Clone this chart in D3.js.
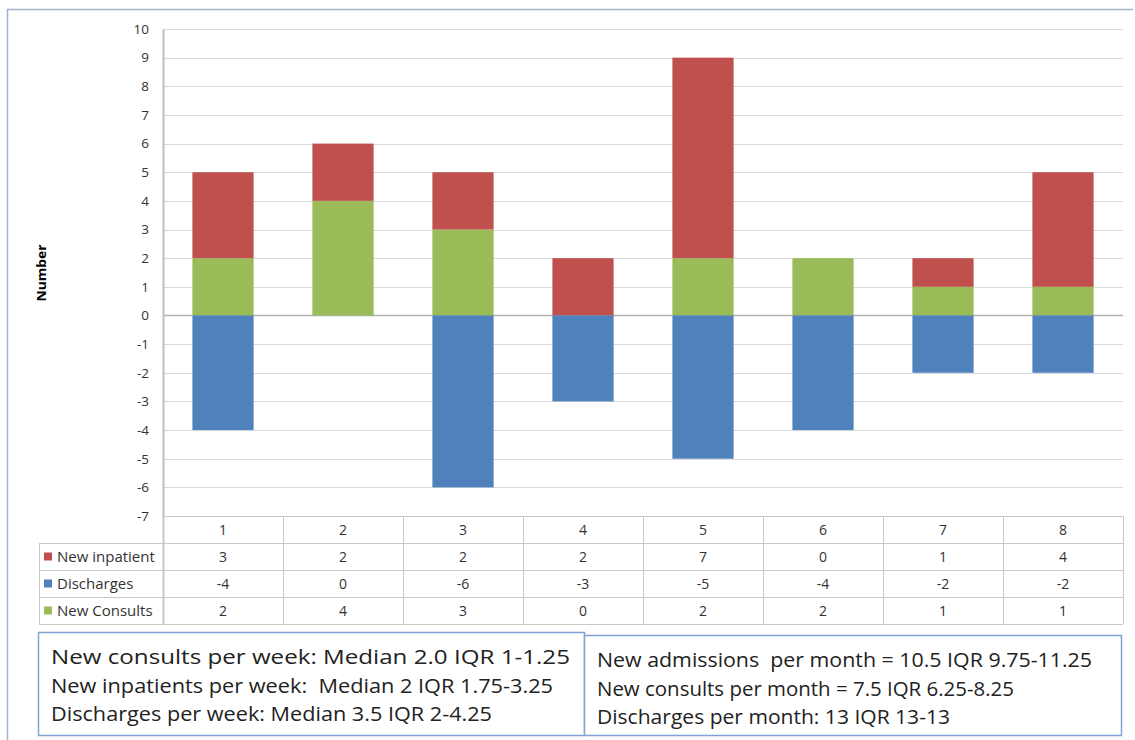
<!DOCTYPE html>
<html><head><meta charset="utf-8">
<script src="https://cdn.jsdelivr.net/npm/d3@7"></script>
<style>body{margin:0;background:#fff}svg{display:block}text{white-space:pre}</style>
</head><body>
<script>
const weeks = ["1","2","3","4","5","6","7","8"];
const newInpatient = [3,2,2,2,7,0,1,4];
const discharges = [-4,0,-6,-3,-5,-4,-2,-2];
const newConsults = [2,4,3,0,2,2,1,1];
const yTicks = [10,9,8,7,6,5,4,3,2,1,0,-1,-2,-3,-4,-5,-6,-7];
const seriesNames = ["New inpatient","Discharges","New Consults"];
const seriesColors = ["#C0504D","#4F81BD","#9BBB59"];
const boxLeft = ["New consults per week: Median 2.0 IQR 1-1.25","New inpatients per week:  Median 2 IQR 1.75-3.25","Discharges per week: Median 3.5 IQR 2-4.25"];
const boxRight = ["New admissions  per month = 10.5 IQR 9.75-11.25","New consults per month = 7.5 IQR 6.25-8.25","Discharges per month: 13 IQR 13-13"];
const boxLeftWidths = [519,502,441];
const boxRightWidths = [495,417,353];

const W=1135,H=740;
const svg=d3.select("body").append("svg").attr("width",W).attr("height",H);
const font="'Open Sans', 'Liberation Sans', Arial, sans-serif";
const L=163,R=1123,T=29,B=516;
svg.append("path").attr("d",`M7.5,${H} V9.5 H1133`).attr("fill","none").attr("stroke","#9fb3cc").attr("stroke-width",1.5);

const x=d3.scaleBand().domain(weeks).range([L,R]).paddingInner(0).paddingOuter(0);
const y=d3.scaleLinear().domain([-7,10]).range([B,T]);

svg.append("g").selectAll("line").data(yTicks).join("line")
 .attr("x1",L).attr("x2",R).attr("y1",d=>Math.round(y(d))+0.5).attr("y2",d=>Math.round(y(d))+0.5)
 .attr("stroke",d=>d===0?"#b0b0b0":"#d9d9d9").attr("stroke-width",d=>d===0?1.5:1.2);
const ya=svg.append("g").attr("transform",`translate(${L},0)`)
 .call(d3.axisLeft(y).tickValues(yTicks).tickSize(0).tickPadding(14).tickFormat(d=>String(d)));
ya.select(".domain").attr("stroke","#bfbfbf").attr("stroke-width",2);
ya.selectAll("text").attr("font-family",font).attr("font-size",13.5).attr("fill","#333");

svg.append("text").attr("transform","translate(46,273) rotate(-90)").attr("text-anchor","middle")
 .attr("font-family",font).attr("font-size",12).attr("font-weight","bold").attr("fill","#000")
 .attr("textLength",57).attr("lengthAdjust","spacingAndGlyphs").text("Number");

const rows=weeks.map((w,i)=>({week:w,consults:newConsults[i],inpatient:newInpatient[i],discharges:discharges[i]}));
const keys=["consults","inpatient","discharges"];
const colorOf={consults:seriesColors[2],inpatient:seriesColors[0],discharges:seriesColors[1]};
const stack=d3.stack().keys(keys).offset(d3.stackOffsetDiverging)(rows);
const bw=x.bandwidth()*0.51;
svg.append("g").selectAll("g").data(stack).join("g").attr("fill",d=>colorOf[d.key])
 .selectAll("rect").data(d=>d).join("rect")
 .attr("x",d=>x(d.data.week)+(x.bandwidth()-bw)/2).attr("width",bw)
 .attr("y",d=>y(Math.max(d[0],d[1]))).attr("height",d=>Math.abs(y(d[0])-y(d[1])));

const rowH=27, tL=39;
const tg=svg.append("g");
const lc="#c8c8c8";
[B,B+rowH,B+2*rowH,B+3*rowH,B+4*rowH].forEach((yy,i)=>{
  tg.append("line").attr("x1",i===0?L:tL).attr("x2",R).attr("y1",yy+0.5).attr("y2",yy+0.5).attr("stroke",lc);
});
tg.append("line").attr("x1",tL+0.5).attr("x2",tL+0.5).attr("y1",B+rowH).attr("y2",B+4*rowH).attr("stroke",lc);
weeks.forEach(w=>{tg.append("line").attr("x1",x(w)+0.5).attr("x2",x(w)+0.5).attr("y1",B).attr("y2",B+4*rowH).attr("stroke",lc).attr("stroke-width",x(w)===L?2:1);});
tg.append("line").attr("x1",R+0.5).attr("x2",R+0.5).attr("y1",B).attr("y2",B+4*rowH).attr("stroke",lc);
tg.selectAll(".hdr").data(weeks).join("text").attr("x",d=>x(d)+x.bandwidth()/2).attr("y",B+rowH/2+5)
 .attr("text-anchor","middle").attr("font-family",font).attr("font-size",14).attr("fill","#333").text(d=>d);
const tableSeries=[newInpatient,discharges,newConsults];
tableSeries.forEach((vals,r)=>{
  const yy=B+rowH*(r+1);
  tg.append("rect").attr("x",tL+5).attr("y",yy+rowH/2-4).attr("width",8).attr("height",8).attr("fill",seriesColors[r]);
  tg.append("text").attr("x",tL+18).attr("y",yy+rowH/2+5.5).attr("font-family",font).attr("font-size",15).attr("fill","#333").text(seriesNames[r]);
  weeks.forEach((w,i)=>{
    tg.append("text").attr("x",x(w)+x.bandwidth()/2).attr("y",yy+rowH/2+5).attr("text-anchor","middle")
      .attr("font-family",font).attr("font-size",14).attr("fill","#333").text(vals[i]);
  });
});

function box(x0,y0,x1,y1,lines,widths){
  svg.append("rect").attr("x",x0+0.5).attr("y",y0+0.5).attr("width",x1-x0).attr("height",y1-y0)
   .attr("fill","#fff").attr("stroke","#7fa3d3").attr("stroke-width",1.5);
  lines.forEach((t,i)=>svg.append("text").attr("x",x0+13).attr("y",y0+32+i*28.5)
   .attr("font-family",font).attr("font-size",19.5).attr("fill","#222")
   .attr("textLength",widths[i]).attr("lengthAdjust","spacingAndGlyphs").text(t));
}
box(38,632,584,735,boxLeft,boxLeftWidths);
box(584,635,1121,735,boxRight,boxRightWidths);
</script>
</body></html>
